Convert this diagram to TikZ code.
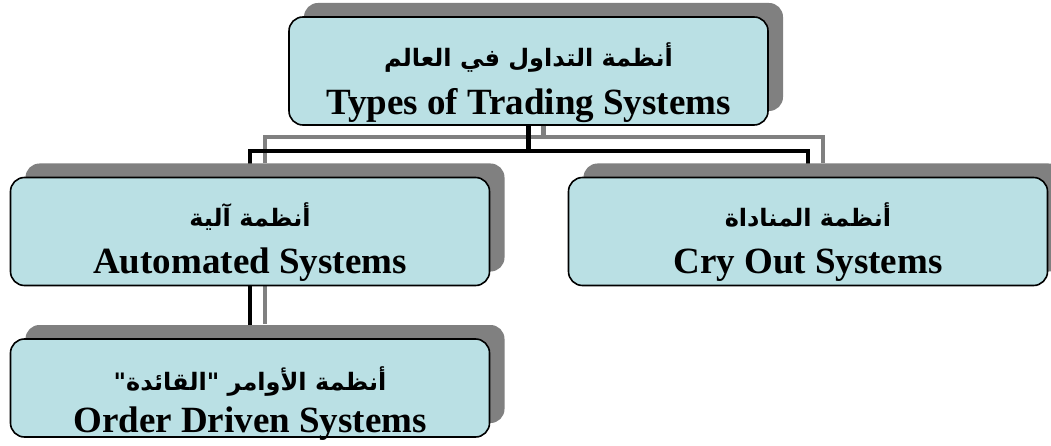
\documentclass[tikz,border=0pt]{standalone}
\usepackage{fontspec}
\setmainfont{Liberation Serif}
\newfontfamily\arabicfont[Script=Arabic]{DejaVu Sans}
\TeXXeTstate=1
\usetikzlibrary{shadows}
\pgfdeclarelayer{background}
\pgfdeclarelayer{canvas}
\pgfsetlayers{canvas,background,main}
\definecolor{boxfill}{RGB}{186,224,228}
\definecolor{shadowgray}{RGB}{128,128,128}
\begin{document}
\begin{tikzpicture}[x=1pt,y=-1pt,
  sysbox/.style={draw=black, line width=1.6pt, fill=boxfill, rounded corners=14pt,
    minimum width=479pt, minimum height=108pt, inner sep=0pt,
    drop shadow={shadow xshift=15pt, shadow yshift=14pt, fill=shadowgray, opacity=1}},
  artext/.style={font=\arabicfont\bfseries\fontsize{24}{28}\selectfont, anchor=base, inner sep=0pt},
  entext/.style={font=\bfseries\fontsize{37}{40}\selectfont, anchor=base, inner sep=0pt},
  link/.style={line width=4.5pt, black},
  linkshadow/.style={line width=4.5pt, shadowgray},
  sh/.style={xshift=15pt, yshift=14pt}]

% page area
\begin{pgfonlayer}{canvas}
  \fill[white] (0,0) rectangle (1051,446);
\end{pgfonlayer}
\useasboundingbox (0,0) rectangle (1051,446);

% boxes
\node[sysbox] (top) at (528.5,71) {};
\node[sysbox] (auto) at (250,231.5) {};
\node[sysbox] (cry) at (808,231.5) {};
\node[sysbox, minimum height=98pt] (order) at (250,388) {};

% labels
\node[artext] (topAr) at ([yshift=-50pt]top.north) {\beginR أنظمة التداول في العالم\endR};
\node[entext] (topEn) at ([yshift=-98pt]top.north) {Types of Trading Systems};
\node[artext] (autoAr) at ([yshift=-50pt]auto.north) {\beginR أنظمة آلية\endR};
\node[entext] (autoEn) at ([yshift=-97pt]auto.north) {Automated Systems};
\node[artext] (cryAr) at ([yshift=-50pt]cry.north) {\beginR أنظمة المناداة\endR};
\node[entext] (cryEn) at ([yshift=-97pt]cry.north) {Cry Out Systems};
\node[artext] (orderAr) at ([yshift=-52pt]order.north) {\beginR أنظمة الأوامر "القائدة"\endR};
\node[entext] (orderEn) at ([yshift=-94pt]order.north) {Order Driven Systems};

% connectors and their shadows, behind the boxes
\begin{pgfonlayer}{background}
  \draw[linkshadow] ([sh]top.south) -- ++(0,25) -| ([sh]auto.north);
  \draw[linkshadow] ([sh]top.south) -- ++(0,25) -| ([sh]cry.north);
  \draw[linkshadow] ([sh]auto.south) -- ([sh]order.north);
  \draw[link] (top.south) -- ++(0,25) -| (auto.north);
  \draw[link] (top.south) -- ++(0,25) -| (cry.north);
  \draw[link] (auto.south) -- (order.north);
\end{pgfonlayer}
\end{tikzpicture}
\end{document}
